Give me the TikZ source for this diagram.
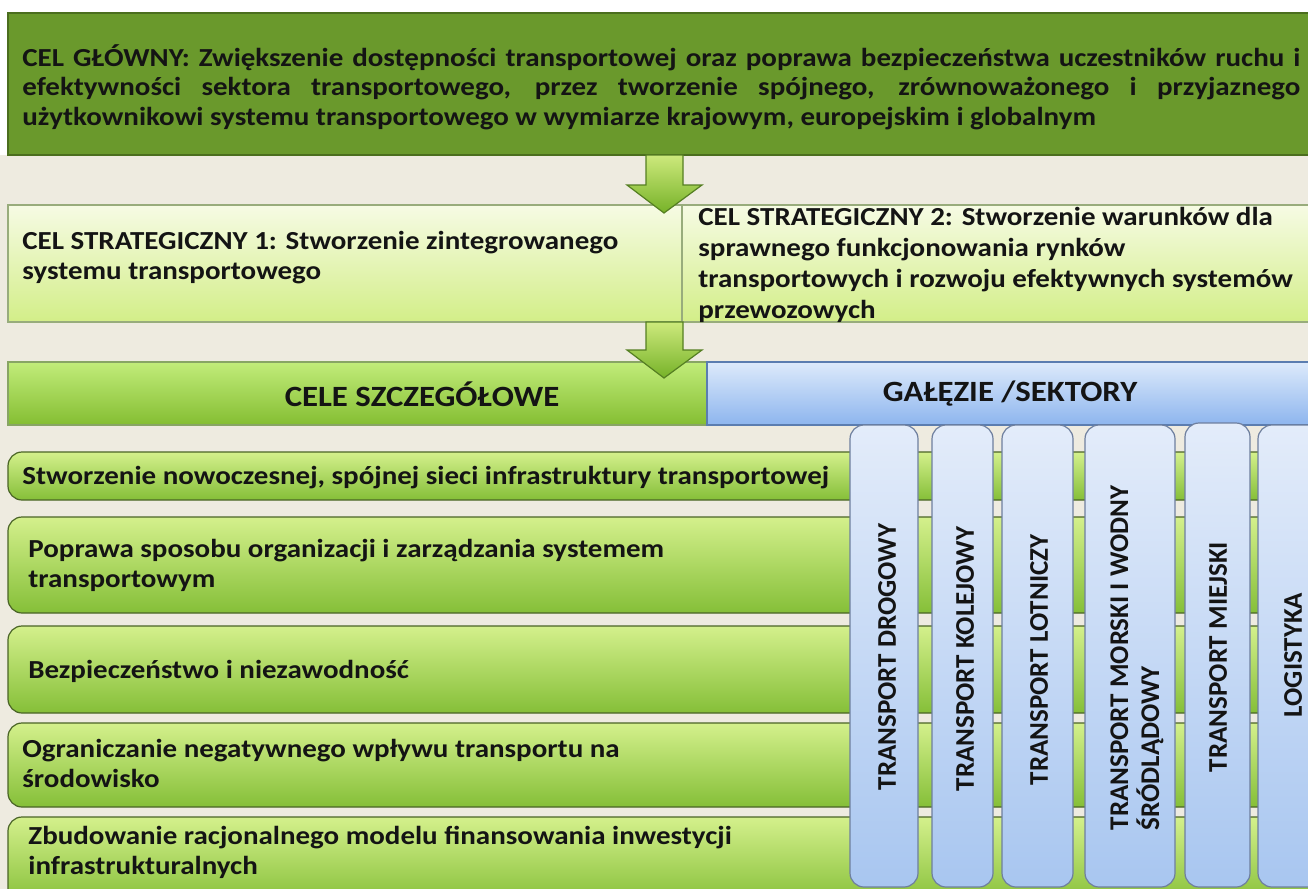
\documentclass[tikz,border=0pt]{standalone}
\usepackage{fontspec}
\setmainfont{Carlito}[FakeStretch=1.115]
\newfontfamily\pionfont{Carlito}
\usepackage{tikz}
\usetikzlibrary{positioning,calc}

\definecolor{tlo}{HTML}{EEEBE0}
\definecolor{oliwka}{HTML}{6A992C}
\definecolor{oliwkaC}{HTML}{4B6E1E}
\definecolor{jasny1}{HTML}{F6FBE4}
\definecolor{jasny2}{HTML}{D3EE88}
\definecolor{jasnyC}{HTML}{98AC7C}
\definecolor{strz1}{HTML}{CDE97C}
\definecolor{strz2}{HTML}{76B228}
\definecolor{zielC}{HTML}{557F22}
\definecolor{nz1}{HTML}{C2EC7A}
\definecolor{nz2}{HTML}{84BE32}
\definecolor{nn1}{HTML}{DDEAFB}
\definecolor{nn2}{HTML}{8DB5EE}
\definecolor{nnC}{HTML}{5B7DB0}
\definecolor{w1}{HTML}{D4F08C}
\definecolor{w2}{HTML}{85BF38}
\definecolor{wC}{HTML}{4A6426}
\definecolor{f1}{HTML}{E3ECFA}
\definecolor{f2}{HTML}{A8C6F0}
\definecolor{fC}{HTML}{6E7F9E}
\definecolor{tekstC}{HTML}{141414}

\begin{document}
\begin{tikzpicture}[x=0.5pt,y=-0.5pt,
  tekst/.style={font=\bfseries\fontsize{13}{15}\selectfont, text=tekstC, inner sep=0pt, align=left},
  naglowek/.style={font=\bfseries\fontsize{14.7}{17}\selectfont, text=tekstC, inner sep=0pt},
  pion/.style={font=\pionfont\bfseries\fontsize{13.5}{15.5}\selectfont, text=tekstC, inner sep=0pt, align=left, rotate=90},
  glownybox/.style={draw=oliwkaC, fill=oliwka, line width=0.8pt},
  celbox/.style={draw=jasnyC, top color=jasny1, bottom color=jasny2, line width=0.6pt},
  strzalka/.style={draw=zielC, top color=strz1, bottom color=strz2, line width=0.6pt},
  naglzielony/.style={draw=zielC!70, top color=nz1, bottom color=nz2, line width=0.6pt},
  naglniebieski/.style={draw=nnC, top color=nn1, bottom color=nn2, line width=0.6pt},
  wiersz/.style={draw=wC, top color=w1, bottom color=w2, rounded corners=7pt, line width=0.6pt},
  filar/.style={draw=fC, top color=f1, bottom color=f2, rounded corners=7pt, line width=0.6pt}]
\useasboundingbox (0,0) rectangle (1308,889);
\fill[white] (0,0) rectangle (1308,155);
\fill[tlo] (0,155) rectangle (1308,889);

\draw[glownybox] (8,13) rectangle (1330,155);
\node[tekst, anchor=west, font=\bfseries\fontsize{13}{14.75}\selectfont] (glowny) at (22,87) {\makebox[639pt][s]{CEL GŁÓWNY: Zwiększenie dostępności transportowej oraz poprawa bezpieczeństwa uczestników ruchu i}\\
  \makebox[639pt][s]{efektywności sektora transportowego, przez tworzenie spójnego, zrównoważonego i przyjaznego}\\
  użytkownikowi systemu transportowego w wymiarze krajowym, europejskim i globalnym};

\draw[celbox] (8,205) rectangle (682,322);
\draw[celbox] (682,205) rectangle (1330,322);
\node[tekst, anchor=west] (cel1) at (22,258) {CEL STRATEGICZNY 1: Stworzenie zintegrowanego\\systemu transportowego};
\node[tekst, anchor=west, font=\bfseries\fontsize{13}{15.5}\selectfont] (cel2) at (698,265) {CEL STRATEGICZNY 2: Stworzenie warunków dla\\sprawnego funkcjonowania rynków\\transportowych i rozwoju efektywnych systemów\\przewozowych};

\draw[strzalka] (646,155) -- (683,155) -- (683,185) -- (702,185) -- (664,213) -- (627,185) -- (646,185) -- cycle;

\draw[naglzielony] (8,362) rectangle (707,425);
\draw[naglniebieski] (707,362) rectangle (1330,425);
\node[naglowek] (cele) at (422,394) {CELE SZCZEGÓŁOWE};
\node[naglowek] (galezie) at (1010,394) {GAŁĘZIE /SEKTORY};

\draw[strzalka] (646,322) -- (683,322) -- (683,350) -- (702,350) -- (664,378) -- (627,350) -- (646,350) -- cycle;

\draw[wiersz] (8,452) rectangle (1330,500);
\draw[wiersz] (8,517) rectangle (1330,613);
\draw[wiersz] (8,626) rectangle (1330,713);
\draw[wiersz] (8,723) rectangle (1330,807);
\draw[wiersz] (8,817) rectangle (1330,905);
\node[tekst, anchor=west] (w1) at (22,478) {Stworzenie nowoczesnej, spójnej sieci infrastruktury transportowej};
\node[tekst, anchor=west] (w2) at (28,565) {Poprawa sposobu organizacji i zarządzania systemem\\transportowym};
\node[tekst, anchor=west] (w3) at (28,671) {Bezpieczeństwo i niezawodność};
\node[tekst, anchor=west] (w4) at (22,763) {Ograniczanie negatywnego wpływu transportu na\\środowisko};
\node[tekst, anchor=west] (w5) at (28,852) {Zbudowanie racjonalnego modelu finansowania inwestycji\\infrastrukturalnych};

\draw[filar] (850,425) rectangle (918,887);
\draw[filar] (932,425) rectangle (993,887);
\draw[filar] (1002,425) rectangle (1073,887);
\draw[filar] (1085,425) rectangle (1175,887);
\draw[filar] (1185,423) rectangle (1250,887);
\draw[filar] (1258,425) rectangle (1340,887);
\node[pion] (drogowy) at (887,657) {TRANSPORT DROGOWY};
\node[pion] (kolejowy) at (965,659) {TRANSPORT KOLEJOWY};
\node[pion] (lotniczy) at (1039,660) {TRANSPORT LOTNICZY};
\node[pion] (morski) at (1137,658) {TRANSPORT MORSKI I WODNY\\ŚRÓDLĄDOWY};
\node[pion] (miejski) at (1218,657) {TRANSPORT MIEJSKI};
\node[pion] (logistyka) at (1293,655) {LOGISTYKA};
\end{tikzpicture}
\end{document}
